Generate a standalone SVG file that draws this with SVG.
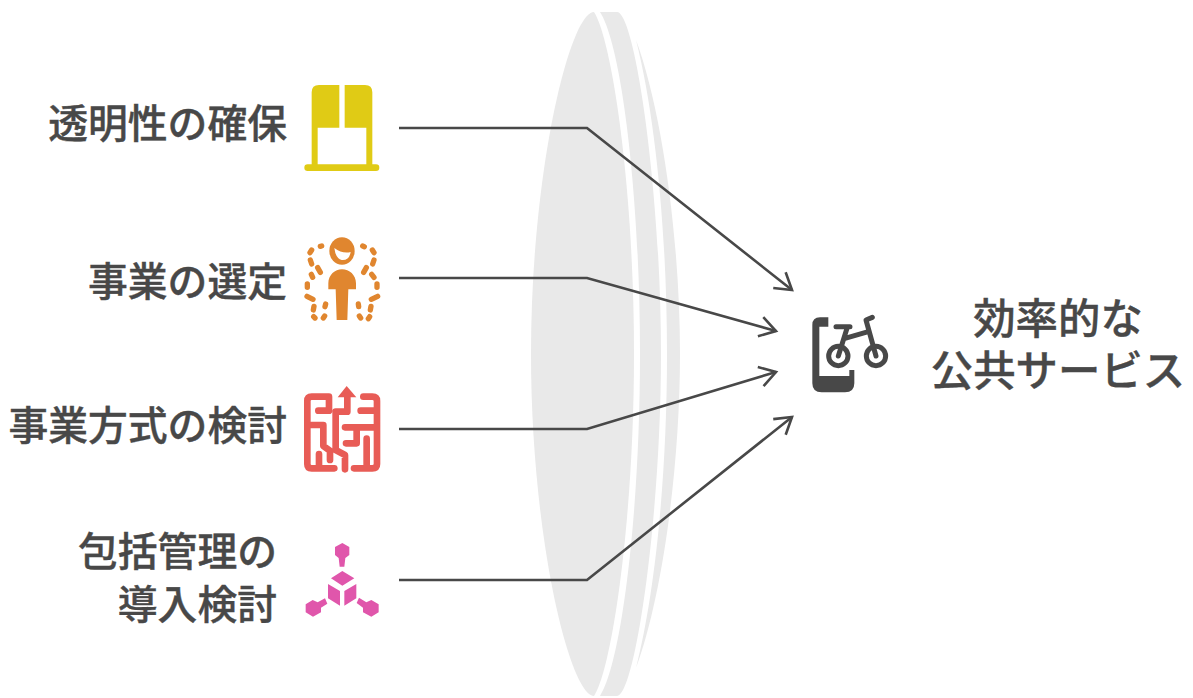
<svg xmlns="http://www.w3.org/2000/svg" width="1193" height="698" viewBox="0 0 1193 698">
<style>
.t{font-family:"Noto Sans CJK JP","Noto Sans",sans-serif;font-weight:500;font-size:39.8px;fill:#484848;stroke:#484848;stroke-width:.4}
.e{text-anchor:end}
.m{text-anchor:middle;font-size:42.4px}
.c{fill:none;stroke:#484848;stroke-width:2.6;marker-end:url(#a)}
.lens{fill:#e9e9e9}
</style>
<defs>
<marker id="a" markerUnits="userSpaceOnUse" markerWidth="24" markerHeight="28" refX="19" refY="14" orient="auto"><path d="M3,4 L19,14 L3,24" fill="none" stroke="#484848" stroke-width="2.6"/></marker>
</defs>
<g id="lens">
<path class="lens" d="M594,12 C570,12 531,170 531,354 C531,538 570,696 594,696 C612,668 634,520 634,354 C634,188 612,40 594,12 Z"/>
<path class="lens" d="M600,12 H617 C635,12 661,190 661,354 C661,518 635,696 617,696 H600 C622,662 640,510 640,354 C640,198 622,46 600,12 Z"/>
<path class="lens" d="M636,40 C662,110 680,240 680,354 C680,468 662,598 636,668 C656,590 667,470 667,354 C667,238 656,118 636,40 Z"/>
</g>
<g id="connectors">
<path class="c" d="M399,128 H587 L792,290"/>
<path class="c" d="M399,278 H587 L776,331"/>
<path class="c" d="M399,429 H587 L776,372"/>
<path class="c" d="M399,580 H587 L792,417"/>
</g>
<g id="node-1">
<path transform="translate(295,75) scale(.3333)" fill="#e0cb15" d="M72,30 H133 V158 H68 V268 H214 V158 H149 V30 H210 Q232,30 232,52 V268 H243 A10,10 0 0 1 243,288 H38 A10,10 0 0 1 38,268 H50 V52 Q50,30 72,30 Z"/>
<text class="t e" x="287" y="138">透明性の確保</text>
</g>
<g id="node-2">
<g transform="translate(295,230) scale(.3333)" fill="#e0862f">
<ellipse cx="141" cy="63" rx="38" ry="41"/>
<path fill="#fff" d="M118,54 Q142,72 167,66 Q163,92 140,90 Q122,86 118,54 Z"/>
<path d="M100,178 V160 C100,135 120,118 141,118 C163,118 183,135 183,160 V178 H160 L157,270 H125 L122,178 Z"/>
<g fill="none" stroke="#e0862f" stroke-width="16" stroke-linecap="round">
<path d="M76,49 L80,48 M50,60 L45,68 M46,90 L50,102 M68,113 L76,127 M49,133 L53,142 M37,162 L37,172 M36,199 L54,208 M57,229 L55,240 M56,260 L60,264 M85,264 L89,258 M92,222 L90,230"/>
<path d="M203,48 L208,50 M232,60 L237,68 M237,90 L233,102 M214,113 L206,127 M230,133 L237,142 M246,162 L246,172 M248,199 L229,208 M228,229 L226,240 M224,260 L220,266 M197,264 L193,258 M190,222 L191,230"/>
</g>
</g>
<text class="t e" x="287" y="296">事業の選定</text>
</g>
<g id="node-3">
<g transform="translate(295,380) scale(.3333)">
<path fill="#e85c56" d="M155,18 L184,52 H128 Z"/>
<path fill="none" stroke="#e85c56" stroke-width="20" stroke-linecap="round" stroke-linejoin="round" d="M157,48 V95 H122 V210 L150,225 V268 M70,92 H102 V50 H50 Q37,50 37,63 V252 Q37,265 50,265 H118 M72,222 V262 M42,135 H85 V198 L105,212 V240 M205,50 H232 Q246,50 246,63 V252 Q246,265 232,265 H177 M197,92 H245 M150,142 H245 M185,142 V190 H153 M215,176 V262"/>
</g>
<text class="t e" x="287" y="440">事業方式の検討</text>
</g>
<g id="node-4">
<g transform="translate(295,535) scale(.3333)" fill="#e056ab">
<path d="M142,24 L163,36 V60 L151,69 L148,95 H134 L131,69 L120,60 V36 Z"/>
<path d="M142,108 L178,130 L142,152 L108,130 Z M99,147 L135,168 V212 L99,190 Z M148,168 L184,147 V190 L148,212 Z"/>
<path d="M53,195 L68,202 L90,190 L97,206 L78,218 V232 L54,245 L32,232 V208 Z"/>
<path d="M229,195 L214,202 L192,188 L185,204 L204,218 V232 L229,245 L251,232 V208 Z"/>
</g>
<text class="t e" x="277" y="566">包括管理の</text>
<text class="t e" x="277" y="619">導入検討</text>
</g>
<g id="node-5">
<g transform="translate(770,270) scale(.3333)">
<path fill="#484848" d="M175,142 H150 Q127,142 127,165 V340 Q127,367 155,367 H225 Q253,367 253,340 V300 H238 V318 H148 V170 H175 Z"/>
<g fill="none" stroke="#484848" stroke-width="15" stroke-linecap="round" stroke-linejoin="round">
<circle cx="205" cy="258" r="29"/><circle cx="318" cy="258" r="29"/>
<path d="M205,258 L232,172 M198,170 H240 M225,205 L295,185 M318,258 L288,150 L307,142"/>
</g>
</g>
</g>
<g id="outcome">
<text class="t m" x="1058" y="334">効率的な</text>
<text class="t m" x="1058" y="386">公共サービス</text>
</g>
</svg>
